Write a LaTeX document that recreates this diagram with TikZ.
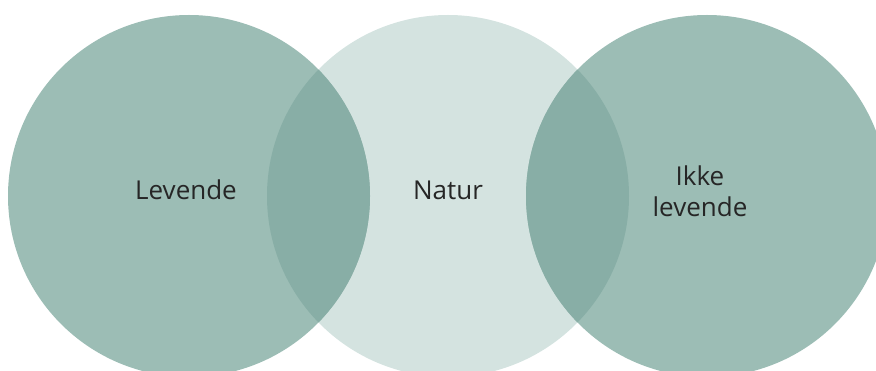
\documentclass[tikz,border=0pt]{standalone}
\usepackage{fontspec}
\setmainfont{Open Sans}
\definecolor{sidefill}{HTML}{9CBDB5}
\definecolor{naturfill}{HTML}{D4E3E0}
\definecolor{snittfill}{HTML}{88AEA6}
\tikzset{
  venn/.style={circle, minimum size=362pt, inner sep=0pt},
  etikett/.style={font=\fontsize{26}{31}\selectfont, align=center, text=black!85, inner sep=0pt, anchor=base}
}
\begin{document}
\begin{tikzpicture}[x=1pt,y=-1pt]
\useasboundingbox (0,0) rectangle (876,371);
% sirklene
\node[venn, fill=naturfill] (natur) at (448,196) {};
\node[venn, fill=sidefill] (levende) at (189,196) {};
\node[venn, fill=sidefill] (ikke) at (707,196) {};
% overlapp
\begin{scope}
  \clip (natur.center) circle (181pt);
  \fill[snittfill] (levende.center) circle (181pt);
  \fill[snittfill] (ikke.center) circle (181pt);
\end{scope}
% tekst
\node[etikett] (tLevende) at (186,200) {Levende};
\node[etikett] (tNatur) at (448,200) {Natur};
\node[etikett] (tIkke) at (700,217) {Ikke\\levende};
\end{tikzpicture}
\end{document}
